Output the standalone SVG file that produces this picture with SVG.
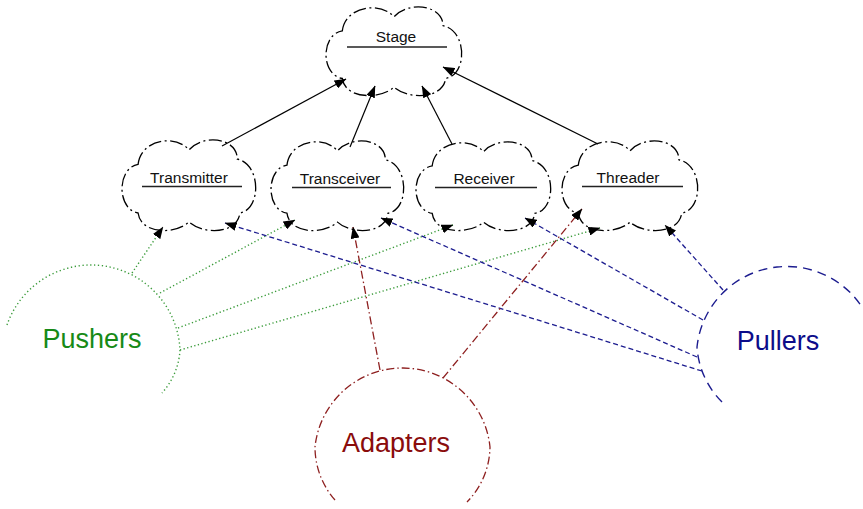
<svg xmlns="http://www.w3.org/2000/svg" width="863" height="509" viewBox="0 0 863 509">
<style>
.cloud{fill:#fff;stroke:#000;stroke-width:1.3;stroke-dasharray:13 3.5 2 3.5;vector-effect:non-scaling-stroke}
.lbl{font-family:"Liberation Sans",Arial,sans-serif;font-size:15.5px;fill:#111;text-anchor:middle}
.ul{stroke:#222;stroke-width:1.3}
.inh{stroke:#000;stroke-width:1.2;fill:none;marker-end:url(#ah)}
.push{stroke:#3c9c3c;stroke-width:1.4;stroke-dasharray:1.3 2.4;fill:none}
.pushc{stroke:#3c9c3c;stroke-width:1.4;stroke-dasharray:1.3 2.6;fill:none}
.pull{stroke:#1c1c8f;stroke-width:1.3;stroke-dasharray:5 3;fill:none}
.pullc{stroke:#1c1c8f;stroke-width:1.4;stroke-dasharray:9 6;fill:none}
.adap{stroke:#8e2020;stroke-width:1.3;stroke-dasharray:8 3 1.5 3;fill:none}
.conn{marker-end:url(#ah)}
.big{font-family:"Liberation Sans",Arial,sans-serif;font-size:27px;text-anchor:middle}
</style>
<defs>
<marker id="ah" markerWidth="12" markerHeight="9" refX="11.5" refY="4.5" orient="auto" markerUnits="userSpaceOnUse">
<path d="M0,0 L12,4.5 L0,9 z" fill="#000"/>
</marker>
<path id="cloudShape" class="cloud" d="M12,26 C14,-2 40,-8 50,10 C60,-8 86,-4 86,20 C104,26 104,76 88,80 C86,104 60,104 50,90 C40,104 14,104 12,80 C-4,76 -4,30 12,26 Z"/>
</defs>

<g id="stage">
<use href="#cloudShape" transform="translate(326,8) scale(1.36,0.88)"/>
<text class="lbl" x="396" y="42">Stage</text>
<line class="ul" x1="347" y1="47" x2="447" y2="47"/>
</g>
<g id="transmitter">
<use href="#cloudShape" transform="translate(122,141) scale(1.34,0.90)"/>
<text class="lbl" x="189" y="183">Transmitter</text>
<line class="ul" x1="142" y1="186.5" x2="242" y2="186.5"/>
</g>
<g id="transceiver">
<use href="#cloudShape" transform="translate(271,142) scale(1.33,0.89)"/>
<text class="lbl" x="340" y="184">Transceiver</text>
<line class="ul" x1="292" y1="187.5" x2="391" y2="187.5"/>
</g>
<g id="receiver">
<use href="#cloudShape" transform="translate(416,143) scale(1.35,0.88)"/>
<text class="lbl" x="484" y="184">Receiver</text>
<line class="ul" x1="435" y1="187.5" x2="537" y2="187.5"/>
</g>
<g id="threader">
<use href="#cloudShape" transform="translate(562,142) scale(1.36,0.89)"/>
<text class="lbl" x="628" y="183">Threader</text>
<line class="ul" x1="582" y1="186.5" x2="683" y2="186.5"/>
</g>

<g id="pushers">
<path class="pushc" d="M7,325 A89,89 0 0 1 90,265 A89,89 0 0 1 180,350 A70,70 0 0 1 162,393"/>
<text class="big" x="92" y="348" fill="#178a17">Pushers</text>
</g>
<g id="pullers">
<path class="pullc" d="M722,402 A85,85 0 0 1 697,347 A90,90 0 0 1 777,267 A90,90 0 0 1 862,307"/>
<text class="big" x="778" y="350" fill="#0c0c8a">Pullers</text>
</g>
<g id="adapters">
<path class="adap" d="M335,500 A80,80 0 0 1 315,447 A88,88 0 0 1 403,368 A88,88 0 0 1 490,447 A80,80 0 0 1 467,502"/>
<text class="big" x="396" y="452" fill="#8a0c0c">Adapters</text>
</g>

<g id="connectors">
<line class="inh" x1="222" y1="146" x2="346" y2="79"/>
<line class="inh" x1="350" y1="147" x2="375" y2="86"/>
<line class="inh" x1="452" y1="144" x2="422" y2="86"/>
<line class="inh" x1="598" y1="144" x2="443" y2="67"/>

<line class="push conn" x1="132" y1="273" x2="163" y2="227"/>
<line class="push conn" x1="160" y1="293" x2="295" y2="220"/>
<line class="push conn" x1="178" y1="328" x2="453" y2="225"/>
<line class="push conn" x1="180" y1="350" x2="600" y2="228"/>

<line class="pull conn" x1="723" y1="290" x2="665" y2="225"/>
<line class="pull conn" x1="703" y1="320" x2="525" y2="218"/>
<line class="pull conn" x1="697" y1="357" x2="381" y2="218"/>
<line class="pull conn" x1="702" y1="371" x2="225" y2="223"/>

<line class="adap conn" x1="380" y1="370" x2="353" y2="227"/>
<line class="adap conn" x1="443" y1="378" x2="582" y2="209"/>
</g>
</svg>
